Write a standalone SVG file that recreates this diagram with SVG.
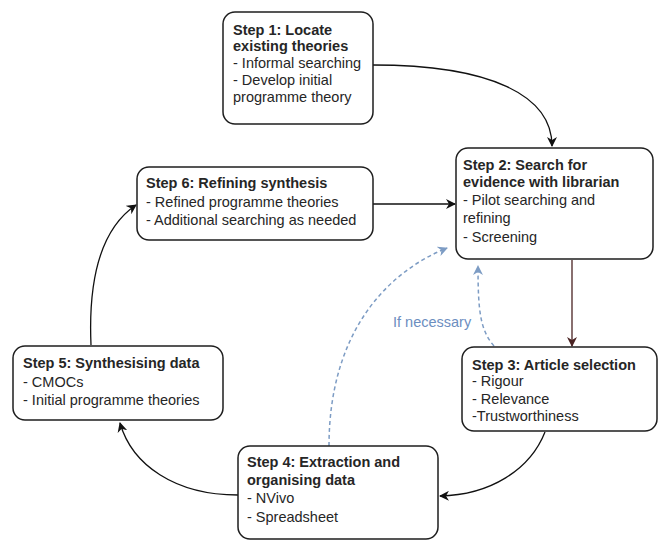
<svg xmlns="http://www.w3.org/2000/svg" width="659" height="541" viewBox="0 0 659 541">
<defs>
<style>
.box{fill:#fff;stroke:#1e1e1e;stroke-width:1.5}
text{font-family:"Liberation Sans",Arial,sans-serif;font-size:14.5px;fill:#262626}
.b{font-weight:bold}
.edge{fill:none;stroke:#111;stroke-width:1.3}
.dash{fill:none;stroke:#7d9cc4;stroke-width:1.5;stroke-dasharray:4 3}
.lbl{fill:#6c8ebf}
</style>
<marker id="ah" markerWidth="10" markerHeight="10" refX="9" refY="5" orient="auto" markerUnits="userSpaceOnUse">
<path d="M0,0 L10,5 L0,10 L3,5 z" fill="#111"/>
</marker>
<marker id="ahr" markerWidth="10" markerHeight="10" refX="9" refY="5" orient="auto" markerUnits="userSpaceOnUse">
<path d="M0,0 L10,5 L0,10 L3,5 z" fill="#4a2323"/>
</marker>
<marker id="ahb" markerWidth="10" markerHeight="10" refX="9" refY="5" orient="auto" markerUnits="userSpaceOnUse">
<path d="M0,0 L10,5 L0,10 L3,5 z" fill="#7d9cc4"/>
</marker>
</defs>
<rect width="659" height="541" fill="#fff"/>
<g id="connectors">
<path class="edge" d="M373,65 C490,65 552,95 552,146" marker-end="url(#ah)"/>
<path class="edge" d="M572,260 L572,346" style="stroke:#4a2323" marker-end="url(#ahr)"/>
<path class="edge" d="M545,432 C530,470 490,495 440,496" marker-end="url(#ah)"/>
<path class="edge" d="M238,495 C175,495 132,465 120,423" marker-end="url(#ah)"/>
<path class="edge" d="M91,345 C88,275 102,228 136,205" marker-end="url(#ah)"/>
<path class="edge" d="M373,204 L455,204" marker-end="url(#ah)"/>
<path class="dash" d="M329,446 C329,340 380,275 447,248" marker-end="url(#ahb)"/>
<path class="dash" d="M494,346 C480,330 478,310 478,266" marker-end="url(#ahb)"/>
<text class="lbl" x="393" y="327">If necessary</text>
</g>
<g id="step1">
<rect class="box" x="223" y="12" width="150" height="112" rx="12"/>
<text x="233" y="35" class="b">Step 1: Locate</text>
<text x="233" y="51" class="b">existing theories</text>
<text x="233" y="68">- Informal searching</text>
<text x="233" y="85">- Develop initial</text>
<text x="233" y="102">programme theory</text>
</g>
<g id="step2">
<rect class="box" x="456" y="148" width="197" height="111" rx="12"/>
<text x="463" y="170" class="b">Step 2: Search for</text>
<text x="463" y="187" class="b">evidence with librarian</text>
<text x="463" y="205">- Pilot searching and</text>
<text x="463" y="223">refining</text>
<text x="463" y="242">- Screening</text>
</g>
<g id="step3">
<rect class="box" x="462" y="347" width="195" height="84" rx="12"/>
<text x="472" y="370" class="b">Step 3: Article selection</text>
<text x="472" y="386">- Rigour</text>
<text x="472" y="404">- Relevance</text>
<text x="472" y="421">-Trustworthiness</text>
</g>
<g id="step4">
<rect class="box" x="238" y="446" width="200" height="93" rx="12"/>
<text x="247" y="467" class="b">Step 4: Extraction and</text>
<text x="247" y="485" class="b">organising data</text>
<text x="247" y="503">- NVivo</text>
<text x="247" y="522">- Spreadsheet</text>
</g>
<g id="step5">
<rect class="box" x="13" y="346" width="210" height="74" rx="12"/>
<text x="23" y="368" class="b">Step 5: Synthesising data</text>
<text x="23" y="387">- CMOCs</text>
<text x="23" y="405">- Initial programme theories</text>
</g>
<g id="step6">
<rect class="box" x="137" y="167" width="236" height="73" rx="12"/>
<text x="146" y="188" class="b">Step 6: Refining synthesis</text>
<text x="146" y="207">- Refined programme theories</text>
<text x="146" y="225">- Additional searching as needed</text>
</g>
</svg>
